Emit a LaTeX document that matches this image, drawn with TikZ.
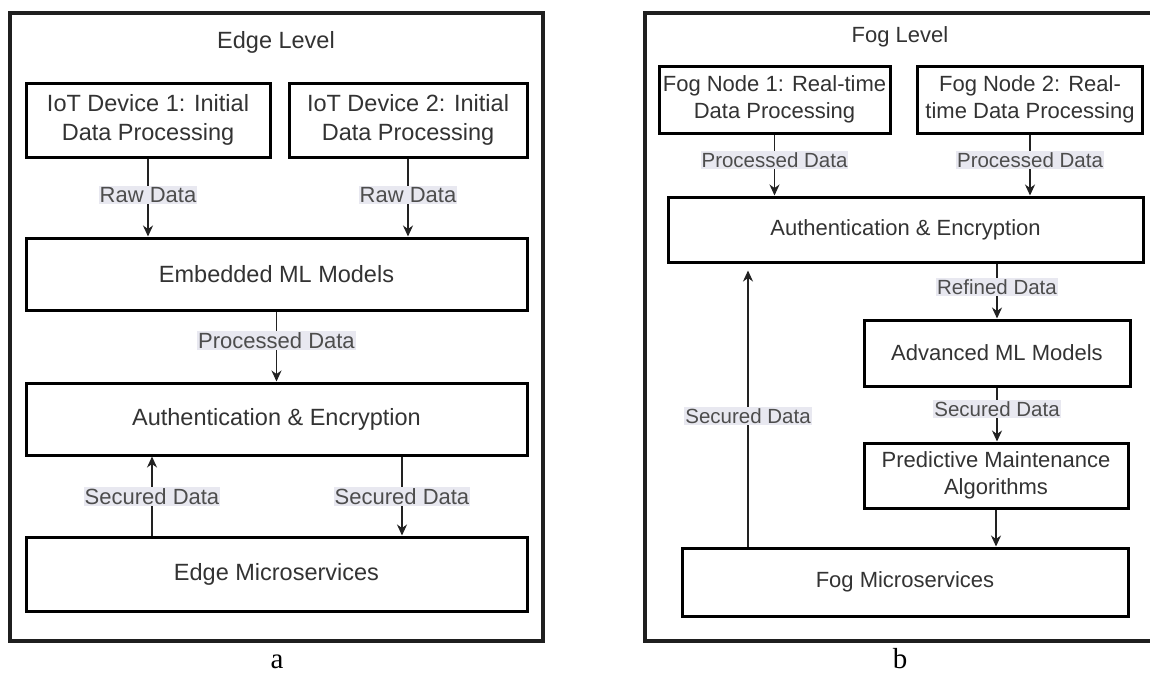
\documentclass[tikz,border=0pt]{standalone}
\usepackage{fontspec}
\setmainfont{Liberation Sans}
\newfontfamily\capfont{Liberation Serif}
\usetikzlibrary{arrows.meta,calc}
\definecolor{boxtext}{HTML}{333333}
\definecolor{lbltext}{HTML}{4D4D4D}
\definecolor{lblbg}{HTML}{E8E8F0}
\definecolor{wire}{HTML}{222222}
\begin{document}
\begin{tikzpicture}[x=1pt,y=-1pt,
  frame/.style={draw=black!88, line width=3.5pt},
  box/.style={draw=black, line width=3pt, fill=white, inner sep=0pt, align=center, text=boxtext},
  boxL/.style={box, font=\fontsize{23.5}{29}\selectfont},
  boxR/.style={box, font=\fontsize{22}{26.5}\selectfont},
  titleL/.style={text=boxtext, font=\fontsize{23.5}{29}\selectfont},
  titleR/.style={text=boxtext, font=\fontsize{22}{26.5}\selectfont},
  lblL/.style={fill=lblbg, text=lbltext, inner xsep=1pt, inner ysep=1.5pt, font=\fontsize{22}{26}\selectfont},
  lblR/.style={fill=lblbg, text=lbltext, inner xsep=1pt, inner ysep=1.5pt, font=\fontsize{20.5}{24}\selectfont},
  conn/.style={draw=wire, line width=1.4pt, -{Stealth[length=11pt,width=10pt,inset=3.5pt]}},
  caption/.style={anchor=base, inner sep=0pt, font=\capfont\fontsize{29}{31}\selectfont}
]
\useasboundingbox (0,0) rectangle (1150,675);
\fill[white] (0,0) rectangle (1150,675);

% ---------- panel a: edge level ----------
\draw[frame] (10,13) rectangle (543,641);
\node[titleL] (edgetitle) at (276,42) {Edge Level};

\node[boxL, minimum width=244, minimum height=74] (dev1) at (148,120) {IoT Device 1: Initial\\Data Processing};
\node[boxL, minimum width=238, minimum height=74] (dev2) at (408,120) {IoT Device 2: Initial\\Data Processing};
\node[boxL, minimum width=501, minimum height=72] (eml) at (276.5,274) {Embedded ML Models};
\node[boxL, minimum width=501, minimum height=72] (auth1) at (276.5,419) {Authentication \& Encryption};
\node[boxL, minimum width=501, minimum height=74] (emicro) at (276.5,574) {Edge Microservices};

\draw[conn] (dev1.south) -- node[lblL, pos=0.47] {Raw Data} (dev1.south |- eml.north);
\draw[conn] (dev2.south) -- node[lblL, pos=0.47] {Raw Data} (dev2.south |- eml.north);
\draw[conn] (eml.south) -- node[lblL, pos=0.41] {Processed Data} (auth1.north);
\draw[conn] ([xshift=-124.5pt]emicro.north) -- node[lblL, pos=0.49] {Secured Data} ([xshift=-124.5pt]auth1.south);
\draw[conn] ([xshift=125.5pt]auth1.south) -- node[lblL, pos=0.51] {Secured Data} ([xshift=125.5pt]emicro.north);

\node[caption] (capa) at (277,668) {a};

% ---------- panel b: fog level ----------
\begin{scope}
  \clip (0,0) rectangle (1150,675);
  \draw[frame] (645,13) rectangle (1156,641);
\end{scope}
\node[titleR] (fogtitle) at (900,37) {Fog Level};

\node[boxR, minimum width=231, minimum height=67] (fn1) at (774.5,99.5) {Fog Node 1: Real-time\\Data Processing};
\node[boxR, minimum width=225, minimum height=67] (fn2) at (1030,99.5) {Fog Node 2: Real-\\time Data Processing};
\node[boxR, minimum width=475, minimum height=65] (auth2) at (905.5,229.5) {Authentication \& Encryption};
\node[boxR, minimum width=266, minimum height=66] (aml) at (997,353) {Advanced ML Models};
\node[boxR, minimum width=264, minimum height=65] (pma) at (996,475.5) {Predictive Maintenance\\Algorithms};
\node[boxR, minimum width=446, minimum height=68] (fmicro) at (905,582) {Fog Microservices};

\draw[conn] (fn1.south) -- node[lblR, pos=0.42] {Processed Data} (fn1.south |- auth2.north);
\draw[conn] (fn2.south) -- node[lblR, pos=0.42] {Processed Data} (fn2.south |- auth2.north);
\draw[conn] (aml.north |- auth2.south) -- node[lblR, pos=0.43] {Refined Data} (aml.north);
\draw[conn] (aml.south) -- node[lblR, pos=0.40] {Secured Data} (aml.south |- pma.north);
\draw[conn] (pma.south) -- (pma.south |- fmicro.north);
\coordinate (upfoot) at ([xshift=-157pt]fmicro.north);
\draw[conn, shorten >=7pt] (upfoot) -- node[lblR, pos=0.46] {Secured Data} (upfoot |- auth2.south);

\node[caption] (capb) at (900,668) {b};
\end{tikzpicture}
\end{document}
